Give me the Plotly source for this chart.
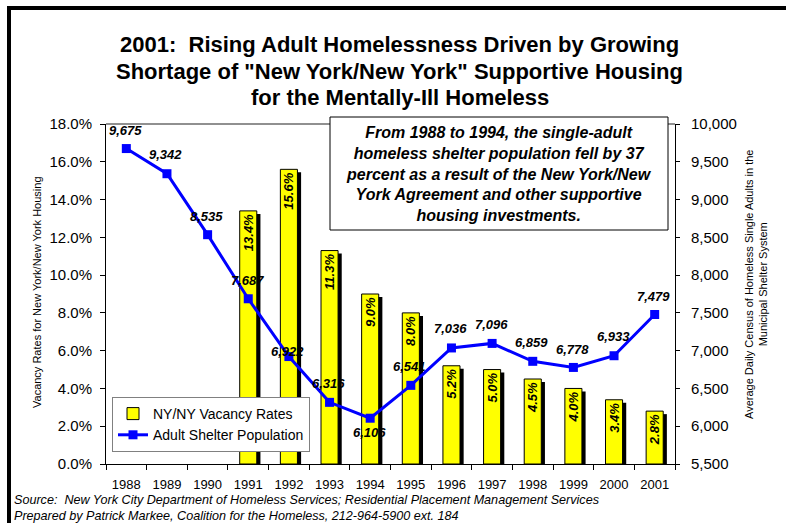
import plotly.graph_objects as go

# ---- data ----
years = list(range(1988, 2002))
year_labels = [str(y) for y in years]
vacancy_rate = [None, None, None, 13.4, 15.6, 11.3, 9.0, 8.0, 5.2, 5.0, 4.5, 4.0, 3.4, 2.8]
shelter_pop = [9675, 9342, 8535, 7687, 6922, 6316, 6106, 6541, 7036, 7096, 6859, 6778, 6933, 7479]
rate_ticks = [0, 2, 4, 6, 8, 10, 12, 14, 16, 18]
pop_ticks = [5500, 6000, 6500, 7000, 7500, 8000, 8500, 9000, 9500, 10000]

title_lines = ["2001:  Rising Adult Homelessness Driven by Growing",
               "Shortage of \"New York/New York\" Supportive Housing",
               "for the Mentally-Ill Homeless"]
note_text = ("From 1988 to 1994, the single-adult<br>"
             "homeless shelter population fell by 37<br>"
             "percent as a result of the New York/New<br>"
             "York Agreement and other supportive<br>"
             "housing investments.")
source_text = "Source:  New York City Department of Homeless Services; Residential Placement Management Services"
prepared_text = "Prepared by Patrick Markee, Coalition for the Homeless, 212-964-5900 ext. 184"
left_title = "Vacancy Rates for New York/New York Housing"
right_title = "Average Daily Census of Homeless Single Adults in the<br>Municipal Shelter System"

# ---- geometry (pixels) ----
W, H = 786, 523
L, R, T, B = 106, 675, 124, 464
FONT = "Liberation Sans, Arial, sans-serif"


def fx(px):
    return (px - L) / (R - L)


def fy(py):
    return (B - py) / (B - T)


# label offsets for the population values (pixels, up is positive)
label_shift = [18, 19, 18, 18, 5, 19, -14, 19, 19, 19, 19, 18, 19, 18]

bar_width = 0.42
shadow_dx = 0.09
shadow_drop = 0.16
boundaries = [1987.5 + i for i in range(15)]

fig = go.Figure()

# bar shadows
fig.add_trace(go.Bar(
    x=years,
    y=[None if v is None else v - shadow_drop for v in vacancy_rate],
    width=bar_width, offset=-bar_width / 2 + shadow_dx,
    marker=dict(color="black", line=dict(width=0)),
    showlegend=False, hoverinfo="skip",
))

# vacancy-rate bars
fig.add_trace(go.Bar(
    x=years, y=vacancy_rate,
    width=bar_width, offset=-bar_width / 2,
    name="NY/NY Vacancy Rates",
    marker=dict(color="#FFFF00", line=dict(color="black", width=1)),
    texttemplate="%{y:.1f}%", textposition="inside",
    insidetextanchor="end", textangle=-90,
    insidetextfont=dict(family=FONT, size=13, color="black", weight="bold", style="italic"),
))

# shelter population line
fig.add_trace(go.Scatter(
    x=years, y=shelter_pop, yaxis="y2",
    name="Adult Shelter Population",
    mode="lines+markers",
    line=dict(color="#0000FF", width=3),
    marker=dict(symbol="square", size=9, color="#0000FF"),
))

annotations = []
for yr, v, dy in zip(years, shelter_pop, label_shift):
    annotations.append(dict(
        x=yr, y=v, xref="x", yref="y2", text=f"{v:,}", showarrow=False,
        yshift=dy, xshift=-1,
        font=dict(family=FONT, size=13, color="black", weight="bold", style="italic"),
    ))

for line, py in zip(title_lines, [45, 71, 97]):
    annotations.append(dict(
        x=fx(399.5), y=fy(py), xref="paper", yref="paper", text=line,
        showarrow=False, xanchor="center", yanchor="middle",
        font=dict(family=FONT, size=22, color="black", weight="bold")))

annotations += [
    dict(x=fx(499), y=fy(174), xref="paper", yref="paper", text=note_text,
         showarrow=False, xanchor="center", yanchor="middle", align="center",
         font=dict(family=FONT, size=16, color="black", weight="bold", style="italic")),
    dict(x=fx(37), y=fy(292), xref="paper", yref="paper", text=left_title,
         showarrow=False, textangle=-90, xanchor="center", yanchor="middle",
         font=dict(family=FONT, size=11, color="black")),
    dict(x=fx(756), y=fy(285), xref="paper", yref="paper", text=right_title,
         showarrow=False, textangle=-90, xanchor="center", yanchor="middle",
         font=dict(family=FONT, size=11, color="black")),
    dict(x=fx(12), y=fy(500), xref="paper", yref="paper", text=source_text,
         showarrow=False, xanchor="left", yanchor="middle",
         font=dict(family=FONT, size=12.6, color="black", style="italic")),
    dict(x=fx(12), y=fy(516), xref="paper", yref="paper", text=prepared_text,
         showarrow=False, xanchor="left", yanchor="middle",
         font=dict(family=FONT, size=12.6, color="black", style="italic")),
]

shapes = [
    # outer frame (top and left edges)
    dict(type="line", xref="paper", yref="paper", x0=fx(9), x1=fx(790), y0=fy(8), y1=fy(8),
         line=dict(color="black", width=4)),
    dict(type="line", xref="paper", yref="paper", x0=fx(9), x1=fx(9), y0=fy(6), y1=fy(530),
         line=dict(color="black", width=4)),
    # top edge of the plot area
    dict(type="line", xref="paper", yref="paper", x0=0, x1=1, y0=1, y1=1,
         line=dict(color="#909090", width=2)),
    # note box
    dict(type="rect", xref="paper", yref="paper", x0=fx(330), x1=fx(668), y0=fy(230), y1=fy(117),
         line=dict(color="black", width=1), fillcolor="white", layer="above"),
]

axis_common = dict(showgrid=False, zeroline=False)

fig.update_layout(
    width=W, height=H, autosize=False,
    margin=dict(l=L, r=W - R, t=T, b=H - B, pad=0),
    paper_bgcolor="white", plot_bgcolor="white",
    barmode="overlay",
    font=dict(family=FONT, color="black"),
    uniformtext=dict(minsize=13, mode="show"),
    xaxis=dict(range=[1987.5, 2001.5], tickvals=years, ticktext=year_labels,
               ticks="", showline=True, linecolor="black", linewidth=1,
               tickfont=dict(size=13), ticklabelstandoff=8,
               minor=dict(tickvals=boundaries, ticks="outside", ticklen=5,
                          tickcolor="black", tickwidth=1),
               **axis_common),
    xaxis2=dict(range=[1987.5, 2001.5], overlaying="x", anchor="y",
                tickvals=boundaries, ticks="inside", ticklen=5, tickcolor="black",
                showticklabels=False, showline=False, **axis_common),
    yaxis=dict(range=[0, 18], tickvals=rate_ticks,
               ticktext=[f"{v:.1f}%" for v in rate_ticks],
               ticks="outside", ticklen=5, tickcolor="black",
               showline=True, linecolor="black", linewidth=1,
               tickfont=dict(size=15), ticklabelstandoff=5, **axis_common),
    yaxis3=dict(range=[0, 18], overlaying="y", anchor="x", side="left",
                tickvals=rate_ticks, ticks="inside", ticklen=5, tickcolor="black",
                showticklabels=False, showline=False, **axis_common),
    yaxis2=dict(range=[5500, 10000], overlaying="y", anchor="x", side="right",
                tickvals=pop_ticks, ticktext=[f"{v:,}" for v in pop_ticks],
                ticks="outside", ticklen=4, tickcolor="black",
                showline=True, linecolor="black", linewidth=1,
                tickfont=dict(size=15), ticklabelstandoff=8, **axis_common),
    yaxis4=dict(range=[5500, 10000], overlaying="y", anchor="x", side="right",
                tickvals=pop_ticks, ticks="inside", ticklen=4, tickcolor="black",
                showticklabels=False, showline=False, **axis_common),
    legend=dict(x=fx(112), y=fy(397), xanchor="left", yanchor="top",
                bgcolor="white", bordercolor="#808080", borderwidth=1,
                font=dict(family=FONT, size=14, color="black"),
                itemwidth=30, tracegroupgap=0),
    annotations=annotations,
    shapes=shapes,
)

fig.write_html("out.html")
